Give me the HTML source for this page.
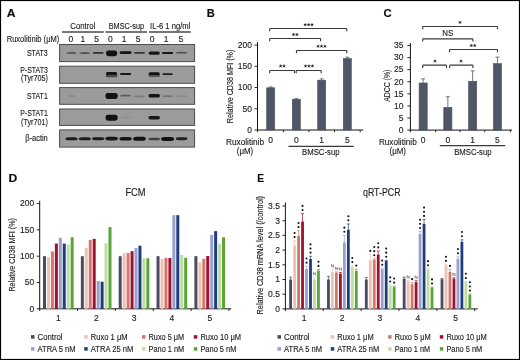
<!DOCTYPE html>
<html><head><meta charset="utf-8"><style>
html,body{margin:0;padding:0;background:#fff;}
body{width:520px;height:360px;overflow:hidden;}
svg{display:block;font-family:"Liberation Sans", sans-serif;will-change:transform;}
text{stroke:#1e1e1e;stroke-width:0.14px;}
</style></head><body>
<svg width="520" height="360" viewBox="0 0 520 360">
<defs><filter id="blur" x="-20%" y="-20%" width="140%" height="140%" color-interpolation-filters="sRGB"><feGaussianBlur stdDeviation="0.6"/></filter></defs>
<rect x="0" y="0" width="520" height="360" fill="#fff"/>
<text x="6.70" y="16.60" font-size="11.2" text-anchor="start" font-weight="bold" fill="#0a0a0a"  textLength="8.80" lengthAdjust="spacingAndGlyphs">A</text>
<text x="206.70" y="16.60" font-size="11.2" text-anchor="start" font-weight="bold" fill="#0a0a0a"  textLength="8.00" lengthAdjust="spacingAndGlyphs">B</text>
<text x="383.50" y="16.60" font-size="11.2" text-anchor="start" font-weight="bold" fill="#0a0a0a"  textLength="8.20" lengthAdjust="spacingAndGlyphs">C</text>
<text x="8.40" y="181.80" font-size="11.2" text-anchor="start" font-weight="bold" fill="#0a0a0a"  textLength="8.80" lengthAdjust="spacingAndGlyphs">D</text>
<text x="257.20" y="181.80" font-size="11.2" text-anchor="start" font-weight="bold" fill="#0a0a0a"  textLength="6.80" lengthAdjust="spacingAndGlyphs">E</text>
<text x="70.30" y="29.00" font-size="8.5" text-anchor="start" font-weight="normal" fill="#1e1e1e"  textLength="25.10" lengthAdjust="spacingAndGlyphs">Control</text>
<text x="108.70" y="29.00" font-size="8.5" text-anchor="start" font-weight="normal" fill="#1e1e1e"  textLength="35.40" lengthAdjust="spacingAndGlyphs">BMSC-sup</text>
<text x="150.10" y="29.00" font-size="8.5" text-anchor="start" font-weight="normal" fill="#1e1e1e"  textLength="40.20" lengthAdjust="spacingAndGlyphs">IL-6 1 ng/ml</text>
<line x1="62.00" y1="32.00" x2="103.80" y2="32.00" stroke="#4a4a4a" stroke-width="1.3"/>
<line x1="105.50" y1="32.00" x2="147.00" y2="32.00" stroke="#4a4a4a" stroke-width="1.3"/>
<line x1="149.00" y1="32.00" x2="190.80" y2="32.00" stroke="#4a4a4a" stroke-width="1.3"/>
<text x="6.70" y="41.70" font-size="8.5" text-anchor="start" font-weight="normal" fill="#1e1e1e"  textLength="52.60" lengthAdjust="spacingAndGlyphs">Ruxolitinib (&#956;M)</text>
<text x="70.90" y="41.70" font-size="8.5" text-anchor="middle" font-weight="normal" fill="#1e1e1e" >0</text>
<text x="82.80" y="41.70" font-size="8.5" text-anchor="middle" font-weight="normal" fill="#1e1e1e" >1</text>
<text x="96.50" y="41.70" font-size="8.5" text-anchor="middle" font-weight="normal" fill="#1e1e1e" >5</text>
<text x="110.40" y="41.70" font-size="8.5" text-anchor="middle" font-weight="normal" fill="#1e1e1e" >0</text>
<text x="124.20" y="41.70" font-size="8.5" text-anchor="middle" font-weight="normal" fill="#1e1e1e" >1</text>
<text x="138.20" y="41.70" font-size="8.5" text-anchor="middle" font-weight="normal" fill="#1e1e1e" >5</text>
<text x="152.20" y="41.70" font-size="8.5" text-anchor="middle" font-weight="normal" fill="#1e1e1e" >0</text>
<text x="166.20" y="41.70" font-size="8.5" text-anchor="middle" font-weight="normal" fill="#1e1e1e" >1</text>
<text x="180.80" y="41.70" font-size="8.5" text-anchor="middle" font-weight="normal" fill="#1e1e1e" >5</text>
<text x="26.90" y="55.80" font-size="8.5" text-anchor="start" font-weight="normal" fill="#1e1e1e"  textLength="20.90" lengthAdjust="spacingAndGlyphs">STAT3</text>
<text x="20.20" y="72.60" font-size="8.5" text-anchor="start" font-weight="normal" fill="#1e1e1e"  textLength="27.60" lengthAdjust="spacingAndGlyphs">P-STAT3</text>
<text x="21.00" y="81.00" font-size="8.5" text-anchor="start" font-weight="normal" fill="#1e1e1e"  textLength="26.80" lengthAdjust="spacingAndGlyphs">(Tyr705)</text>
<text x="27.00" y="98.60" font-size="8.5" text-anchor="start" font-weight="normal" fill="#1e1e1e"  textLength="20.80" lengthAdjust="spacingAndGlyphs">STAT1</text>
<text x="20.20" y="116.10" font-size="8.5" text-anchor="start" font-weight="normal" fill="#1e1e1e"  textLength="27.60" lengthAdjust="spacingAndGlyphs">P-STAT1</text>
<text x="21.00" y="125.10" font-size="8.5" text-anchor="start" font-weight="normal" fill="#1e1e1e"  textLength="26.80" lengthAdjust="spacingAndGlyphs">(Tyr701)</text>
<text x="25.20" y="141.40" font-size="8.5" text-anchor="start" font-weight="normal" fill="#1e1e1e"  textLength="22.60" lengthAdjust="spacingAndGlyphs">&#946;-actin</text>
<rect x="59.60" y="44.50" width="135.00" height="17.10" fill="#9b9b9b" stroke="#4d4d4d" stroke-width="1.0"/>
<rect x="59.60" y="66.20" width="135.00" height="17.10" fill="#9b9b9b" stroke="#4d4d4d" stroke-width="1.0"/>
<rect x="59.60" y="87.60" width="135.00" height="16.70" fill="#9b9b9b" stroke="#4d4d4d" stroke-width="1.0"/>
<rect x="59.60" y="109.00" width="135.00" height="16.40" fill="#9b9b9b" stroke="#4d4d4d" stroke-width="1.0"/>
<rect x="59.60" y="129.90" width="135.00" height="17.20" fill="#9b9b9b" stroke="#4d4d4d" stroke-width="1.0"/>
<g filter="url(#blur)">
<ellipse cx="71.50" cy="52.90" rx="4.85" ry="0.85" fill="#4e4e4e"/>
<ellipse cx="84.80" cy="53.10" rx="5.35" ry="0.90" fill="#464646"/>
<rect x="92.90" y="52.00" width="10.60" height="1.80" rx="0.90" fill="#323232"/>
<rect x="106.00" y="50.40" width="11.20" height="5.80" rx="2.40" fill="#121212"/>
<rect x="119.70" y="51.30" width="11.80" height="2.60" rx="1.30" fill="#161616"/>
<rect x="134.10" y="51.95" width="10.80" height="1.70" rx="0.85" fill="#343434"/>
<rect x="148.60" y="51.40" width="11.20" height="3.40" rx="1.70" fill="#161616"/>
<rect x="162.00" y="51.90" width="11.20" height="2.20" rx="1.10" fill="#181818"/>
<ellipse cx="181.60" cy="52.70" rx="5.60" ry="0.90" fill="#4f4f4f"/>
<rect x="105.95" y="72.10" width="11.30" height="3.40" rx="1.70" fill="#121212"/>
<rect x="105.80" y="74.80" width="11.60" height="2.40" rx="1.20" fill="#484848"/>
<rect x="120.00" y="72.90" width="11.20" height="2.20" rx="1.10" fill="#161616"/>
<rect x="148.60" y="72.30" width="11.20" height="3.20" rx="1.60" fill="#121212"/>
<rect x="148.60" y="74.90" width="11.20" height="2.00" rx="1.00" fill="#565656"/>
<rect x="162.40" y="73.20" width="10.40" height="1.80" rx="0.90" fill="#1f1f1f"/>
<ellipse cx="71.50" cy="96.20" rx="4.10" ry="0.85" fill="#8a8a8a"/>
<rect x="105.50" y="92.90" width="12.20" height="6.20" rx="2.40" fill="#121212"/>
<rect x="120.40" y="94.80" width="10.40" height="1.80" rx="0.90" fill="#5d5d5d"/>
<rect x="134.30" y="95.50" width="10.40" height="1.80" rx="0.90" fill="#7c7c7c"/>
<rect x="148.40" y="93.90" width="11.60" height="3.60" rx="1.80" fill="#161616"/>
<ellipse cx="167.60" cy="96.10" rx="5.50" ry="0.95" fill="#717171"/>
<ellipse cx="181.60" cy="96.10" rx="5.35" ry="0.90" fill="#858585"/>
<rect x="105.60" y="114.70" width="12.00" height="6.00" rx="2.40" fill="#121212"/>
<ellipse cx="125.60" cy="117.60" rx="5.10" ry="0.85" fill="#8d8d8d"/>
<rect x="148.50" y="116.00" width="11.40" height="3.60" rx="1.80" fill="#161616"/>
<rect x="65.50" y="137.25" width="12.00" height="3.10" rx="3.2" ry="1.55" fill="#1b1b1b"/>
<rect x="78.80" y="137.25" width="12.00" height="3.10" rx="3.2" ry="1.55" fill="#1b1b1b"/>
<rect x="92.20" y="137.35" width="12.00" height="2.90" rx="3.2" ry="1.45" fill="#1b1b1b"/>
<rect x="105.30" y="136.75" width="12.60" height="3.70" rx="3.2" ry="1.85" fill="#161616"/>
<rect x="119.40" y="136.95" width="12.40" height="3.50" rx="3.2" ry="1.75" fill="#161616"/>
<rect x="133.20" y="136.75" width="12.60" height="4.10" rx="3.2" ry="2.05" fill="#121212"/>
<rect x="148.40" y="137.75" width="11.60" height="2.50" rx="3.2" ry="1.25" fill="#414141"/>
<rect x="161.10" y="137.05" width="13.00" height="3.90" rx="3.2" ry="1.95" fill="#121212"/>
<rect x="175.80" y="137.35" width="11.60" height="2.90" rx="3.2" ry="1.45" fill="#1f1f1f"/>
</g>
<line x1="257.50" y1="42.20" x2="257.50" y2="130.45" stroke="#151515" stroke-width="1.0"/>
<line x1="257.00" y1="130.00" x2="363.20" y2="130.00" stroke="#151515" stroke-width="1.0"/>
<line x1="254.50" y1="130.00" x2="257.50" y2="130.00" stroke="#151515" stroke-width="0.9"/>
<text x="252.00" y="132.80" font-size="8.5" text-anchor="end" font-weight="normal" fill="#1e1e1e" >0</text>
<line x1="254.50" y1="108.78" x2="257.50" y2="108.78" stroke="#151515" stroke-width="0.9"/>
<text x="252.00" y="111.58" font-size="8.5" text-anchor="end" font-weight="normal" fill="#1e1e1e" >50</text>
<line x1="254.50" y1="87.55" x2="257.50" y2="87.55" stroke="#151515" stroke-width="0.9"/>
<text x="252.00" y="90.35" font-size="8.5" text-anchor="end" font-weight="normal" fill="#1e1e1e" >100</text>
<line x1="254.50" y1="66.33" x2="257.50" y2="66.33" stroke="#151515" stroke-width="0.9"/>
<text x="252.00" y="69.12" font-size="8.5" text-anchor="end" font-weight="normal" fill="#1e1e1e" >150</text>
<line x1="254.50" y1="45.10" x2="257.50" y2="45.10" stroke="#151515" stroke-width="0.9"/>
<text x="252.00" y="47.90" font-size="8.5" text-anchor="end" font-weight="normal" fill="#1e1e1e" >200</text>
<line x1="257.50" y1="130.00" x2="257.50" y2="132.20" stroke="#151515" stroke-width="0.9"/>
<line x1="283.40" y1="130.00" x2="283.40" y2="132.20" stroke="#151515" stroke-width="0.9"/>
<line x1="309.00" y1="130.00" x2="309.00" y2="132.20" stroke="#151515" stroke-width="0.9"/>
<line x1="334.50" y1="130.00" x2="334.50" y2="132.20" stroke="#151515" stroke-width="0.9"/>
<line x1="360.20" y1="130.00" x2="360.20" y2="132.20" stroke="#151515" stroke-width="0.9"/>
<rect x="266.70" y="87.85" width="8.00" height="42.15" fill="#4f5668" stroke="#454b5c" stroke-width="0.6"/>
<line x1="270.70" y1="86.91" x2="270.70" y2="88.05" stroke="#4f5668" stroke-width="0.8"/>
<line x1="268.70" y1="86.91" x2="272.70" y2="86.91" stroke="#4f5668" stroke-width="0.8"/>
<rect x="292.30" y="99.31" width="8.00" height="30.69" fill="#4f5668" stroke="#454b5c" stroke-width="0.6"/>
<line x1="296.30" y1="98.37" x2="296.30" y2="99.51" stroke="#4f5668" stroke-width="0.8"/>
<line x1="294.30" y1="98.37" x2="298.30" y2="98.37" stroke="#4f5668" stroke-width="0.8"/>
<rect x="317.70" y="80.21" width="8.00" height="49.79" fill="#4f5668" stroke="#454b5c" stroke-width="0.6"/>
<line x1="321.70" y1="78.85" x2="321.70" y2="80.41" stroke="#4f5668" stroke-width="0.8"/>
<line x1="319.70" y1="78.85" x2="323.70" y2="78.85" stroke="#4f5668" stroke-width="0.8"/>
<rect x="343.30" y="58.56" width="8.00" height="71.44" fill="#4f5668" stroke="#454b5c" stroke-width="0.6"/>
<line x1="347.30" y1="57.20" x2="347.30" y2="58.76" stroke="#4f5668" stroke-width="0.8"/>
<line x1="345.30" y1="57.20" x2="349.30" y2="57.20" stroke="#4f5668" stroke-width="0.8"/>
<path d="M269.70,31.30 V29.10 Q269.70,28.50 270.30,28.50 H346.20 Q346.80,28.50 346.80,29.10 V31.30" fill="none" stroke="#3a3a3a" stroke-width="1.15"/>
<path d="M305.20,24.80L305.20,23.60M305.20,24.80L306.34,24.43M305.20,24.80L305.91,25.77M305.20,24.80L304.49,25.77M305.20,24.80L304.06,24.43" stroke="#1a1a1a" stroke-width="0.75" stroke-linecap="round" fill="none"/>
<path d="M308.60,24.80L308.60,23.60M308.60,24.80L309.74,24.43M308.60,24.80L309.31,25.77M308.60,24.80L307.89,25.77M308.60,24.80L307.46,24.43" stroke="#1a1a1a" stroke-width="0.75" stroke-linecap="round" fill="none"/>
<path d="M312.00,24.80L312.00,23.60M312.00,24.80L313.14,24.43M312.00,24.80L312.71,25.77M312.00,24.80L311.29,25.77M312.00,24.80L310.86,24.43" stroke="#1a1a1a" stroke-width="0.75" stroke-linecap="round" fill="none"/>
<path d="M269.70,41.30 V39.10 Q269.70,38.50 270.30,38.50 H320.00 Q320.60,38.50 320.60,39.10 V41.30" fill="none" stroke="#3a3a3a" stroke-width="1.15"/>
<path d="M293.50,34.60L293.50,33.40M293.50,34.60L294.64,34.23M293.50,34.60L294.21,35.57M293.50,34.60L292.79,35.57M293.50,34.60L292.36,34.23" stroke="#1a1a1a" stroke-width="0.75" stroke-linecap="round" fill="none"/>
<path d="M296.90,34.60L296.90,33.40M296.90,34.60L298.04,34.23M296.90,34.60L297.61,35.57M296.90,34.60L296.19,35.57M296.90,34.60L295.76,34.23" stroke="#1a1a1a" stroke-width="0.75" stroke-linecap="round" fill="none"/>
<path d="M296.50,53.30 V51.10 Q296.50,50.50 297.10,50.50 H346.20 Q346.80,50.50 346.80,51.10 V53.30" fill="none" stroke="#3a3a3a" stroke-width="1.15"/>
<path d="M318.10,46.30L318.10,45.10M318.10,46.30L319.24,45.93M318.10,46.30L318.81,47.27M318.10,46.30L317.39,47.27M318.10,46.30L316.96,45.93" stroke="#1a1a1a" stroke-width="0.75" stroke-linecap="round" fill="none"/>
<path d="M321.50,46.30L321.50,45.10M321.50,46.30L322.64,45.93M321.50,46.30L322.21,47.27M321.50,46.30L320.79,47.27M321.50,46.30L320.36,45.93" stroke="#1a1a1a" stroke-width="0.75" stroke-linecap="round" fill="none"/>
<path d="M324.90,46.30L324.90,45.10M324.90,46.30L326.04,45.93M324.90,46.30L325.61,47.27M324.90,46.30L324.19,47.27M324.90,46.30L323.76,45.93" stroke="#1a1a1a" stroke-width="0.75" stroke-linecap="round" fill="none"/>
<path d="M269.70,73.30 V71.10 Q269.70,70.50 270.30,70.50 H293.90 Q294.50,70.50 294.50,71.10 V73.30" fill="none" stroke="#3a3a3a" stroke-width="1.15"/>
<path d="M280.60,66.10L280.60,64.90M280.60,66.10L281.74,65.73M280.60,66.10L281.31,67.07M280.60,66.10L279.89,67.07M280.60,66.10L279.46,65.73" stroke="#1a1a1a" stroke-width="0.75" stroke-linecap="round" fill="none"/>
<path d="M284.00,66.10L284.00,64.90M284.00,66.10L285.14,65.73M284.00,66.10L284.71,67.07M284.00,66.10L283.29,67.07M284.00,66.10L282.86,65.73" stroke="#1a1a1a" stroke-width="0.75" stroke-linecap="round" fill="none"/>
<path d="M296.20,73.30 V71.10 Q296.20,70.50 296.80,70.50 H320.60 Q321.20,70.50 321.20,71.10 V73.30" fill="none" stroke="#3a3a3a" stroke-width="1.15"/>
<path d="M305.60,66.10L305.60,64.90M305.60,66.10L306.74,65.73M305.60,66.10L306.31,67.07M305.60,66.10L304.89,67.07M305.60,66.10L304.46,65.73" stroke="#1a1a1a" stroke-width="0.75" stroke-linecap="round" fill="none"/>
<path d="M309.00,66.10L309.00,64.90M309.00,66.10L310.14,65.73M309.00,66.10L309.71,67.07M309.00,66.10L308.29,67.07M309.00,66.10L307.86,65.73" stroke="#1a1a1a" stroke-width="0.75" stroke-linecap="round" fill="none"/>
<path d="M312.40,66.10L312.40,64.90M312.40,66.10L313.54,65.73M312.40,66.10L313.11,67.07M312.40,66.10L311.69,67.07M312.40,66.10L311.26,65.73" stroke="#1a1a1a" stroke-width="0.75" stroke-linecap="round" fill="none"/>
<text x="270.70" y="142.50" font-size="8.5" text-anchor="middle" font-weight="normal" fill="#1e1e1e" >0</text>
<text x="296.30" y="142.50" font-size="8.5" text-anchor="middle" font-weight="normal" fill="#1e1e1e" >0</text>
<text x="321.70" y="142.50" font-size="8.5" text-anchor="middle" font-weight="normal" fill="#1e1e1e" >1</text>
<text x="347.30" y="142.50" font-size="8.5" text-anchor="middle" font-weight="normal" fill="#1e1e1e" >5</text>
<text x="226.00" y="145.30" font-size="8.5" text-anchor="start" font-weight="normal" fill="#1e1e1e"  textLength="38.00" lengthAdjust="spacingAndGlyphs">Ruxolitinib</text>
<text x="236.80" y="154.00" font-size="8.5" text-anchor="start" font-weight="normal" fill="#1e1e1e"  textLength="16.40" lengthAdjust="spacingAndGlyphs">(&#956;M)</text>
<line x1="288.50" y1="146.40" x2="353.70" y2="146.40" stroke="#3a3a3a" stroke-width="1.1"/>
<text x="302.10" y="154.70" font-size="8.5" text-anchor="start" font-weight="normal" fill="#1e1e1e"  textLength="37.40" lengthAdjust="spacingAndGlyphs">BMSC-sup</text>
<text x="-36.75" y="0.00" font-size="9" text-anchor="start" font-weight="normal" fill="#1e1e1e" transform="translate(232.8,86.4) rotate(-90)" textLength="73.50" lengthAdjust="spacingAndGlyphs">Relative CD38 MFI (%)</text>
<line x1="410.40" y1="43.10" x2="410.40" y2="130.55" stroke="#151515" stroke-width="1.0"/>
<line x1="409.90" y1="130.10" x2="512.00" y2="130.10" stroke="#151515" stroke-width="1.0"/>
<line x1="407.40" y1="130.10" x2="410.40" y2="130.10" stroke="#151515" stroke-width="0.9"/>
<text x="403.50" y="132.90" font-size="8.5" text-anchor="end" font-weight="normal" fill="#1e1e1e" >0</text>
<line x1="407.40" y1="118.01" x2="410.40" y2="118.01" stroke="#151515" stroke-width="0.9"/>
<text x="403.50" y="120.81" font-size="8.5" text-anchor="end" font-weight="normal" fill="#1e1e1e" >5</text>
<line x1="407.40" y1="105.93" x2="410.40" y2="105.93" stroke="#151515" stroke-width="0.9"/>
<text x="403.50" y="108.73" font-size="8.5" text-anchor="end" font-weight="normal" fill="#1e1e1e" >10</text>
<line x1="407.40" y1="93.84" x2="410.40" y2="93.84" stroke="#151515" stroke-width="0.9"/>
<text x="403.50" y="96.64" font-size="8.5" text-anchor="end" font-weight="normal" fill="#1e1e1e" >15</text>
<line x1="407.40" y1="81.76" x2="410.40" y2="81.76" stroke="#151515" stroke-width="0.9"/>
<text x="403.50" y="84.56" font-size="8.5" text-anchor="end" font-weight="normal" fill="#1e1e1e" >20</text>
<line x1="407.40" y1="69.67" x2="410.40" y2="69.67" stroke="#151515" stroke-width="0.9"/>
<text x="403.50" y="72.47" font-size="8.5" text-anchor="end" font-weight="normal" fill="#1e1e1e" >25</text>
<line x1="407.40" y1="57.59" x2="410.40" y2="57.59" stroke="#151515" stroke-width="0.9"/>
<text x="403.50" y="60.39" font-size="8.5" text-anchor="end" font-weight="normal" fill="#1e1e1e" >30</text>
<line x1="407.40" y1="45.50" x2="410.40" y2="45.50" stroke="#151515" stroke-width="0.9"/>
<text x="403.50" y="48.30" font-size="8.5" text-anchor="end" font-weight="normal" fill="#1e1e1e" >35</text>
<line x1="410.40" y1="130.10" x2="410.40" y2="132.30" stroke="#151515" stroke-width="0.9"/>
<line x1="435.60" y1="130.10" x2="435.60" y2="132.30" stroke="#151515" stroke-width="0.9"/>
<line x1="460.00" y1="130.10" x2="460.00" y2="132.30" stroke="#151515" stroke-width="0.9"/>
<line x1="484.80" y1="130.10" x2="484.80" y2="132.30" stroke="#151515" stroke-width="0.9"/>
<line x1="510.40" y1="130.10" x2="510.40" y2="132.30" stroke="#151515" stroke-width="0.9"/>
<rect x="419.10" y="83.02" width="8.10" height="47.08" fill="#4f5668" stroke="#454b5c" stroke-width="0.6"/>
<line x1="423.15" y1="78.86" x2="423.15" y2="83.22" stroke="#4f5668" stroke-width="0.8"/>
<line x1="421.15" y1="78.86" x2="425.15" y2="78.86" stroke="#4f5668" stroke-width="0.8"/>
<rect x="443.80" y="107.44" width="8.10" height="22.66" fill="#4f5668" stroke="#454b5c" stroke-width="0.6"/>
<line x1="447.85" y1="96.74" x2="447.85" y2="107.64" stroke="#4f5668" stroke-width="0.8"/>
<line x1="445.85" y1="96.74" x2="449.85" y2="96.74" stroke="#4f5668" stroke-width="0.8"/>
<rect x="468.60" y="81.33" width="8.10" height="48.77" fill="#4f5668" stroke="#454b5c" stroke-width="0.6"/>
<line x1="472.65" y1="70.88" x2="472.65" y2="81.53" stroke="#4f5668" stroke-width="0.8"/>
<line x1="470.65" y1="70.88" x2="474.65" y2="70.88" stroke="#4f5668" stroke-width="0.8"/>
<rect x="493.40" y="63.69" width="8.10" height="66.41" fill="#4f5668" stroke="#454b5c" stroke-width="0.6"/>
<line x1="497.45" y1="57.10" x2="497.45" y2="63.89" stroke="#4f5668" stroke-width="0.8"/>
<line x1="495.45" y1="57.10" x2="499.45" y2="57.10" stroke="#4f5668" stroke-width="0.8"/>
<path d="M422.70,29.30 V27.10 Q422.70,26.50 423.30,26.50 H496.90 Q497.50,26.50 497.50,27.10 V29.30" fill="none" stroke="#3a3a3a" stroke-width="1.15"/>
<path d="M460.00,22.40L460.00,21.20M460.00,22.40L461.14,22.03M460.00,22.40L460.71,23.37M460.00,22.40L459.29,23.37M460.00,22.40L458.86,22.03" stroke="#1a1a1a" stroke-width="0.75" stroke-linecap="round" fill="none"/>
<path d="M422.70,41.60 V39.40 Q422.70,38.80 423.30,38.80 H472.30 Q472.90,38.80 472.90,39.40 V41.60" fill="none" stroke="#3a3a3a" stroke-width="1.15"/>
<text x="442.30" y="36.40" font-size="8.6" text-anchor="start" font-weight="normal" fill="#1e1e1e"  textLength="11.00" lengthAdjust="spacingAndGlyphs">NS</text>
<path d="M449.60,52.30 V50.10 Q449.60,49.50 450.20,49.50 H496.90 Q497.50,49.50 497.50,50.10 V52.30" fill="none" stroke="#3a3a3a" stroke-width="1.15"/>
<path d="M471.30,45.60L471.30,44.40M471.30,45.60L472.44,45.23M471.30,45.60L472.01,46.57M471.30,45.60L470.59,46.57M471.30,45.60L470.16,45.23" stroke="#1a1a1a" stroke-width="0.75" stroke-linecap="round" fill="none"/>
<path d="M474.70,45.60L474.70,44.40M474.70,45.60L475.84,45.23M474.70,45.60L475.41,46.57M474.70,45.60L473.99,46.57M474.70,45.60L473.56,45.23" stroke="#1a1a1a" stroke-width="0.75" stroke-linecap="round" fill="none"/>
<path d="M422.70,67.90 V65.70 Q422.70,65.10 423.30,65.10 H445.90 Q446.50,65.10 446.50,65.70 V67.90" fill="none" stroke="#3a3a3a" stroke-width="1.15"/>
<path d="M435.00,61.20L435.00,60.00M435.00,61.20L436.14,60.83M435.00,61.20L435.71,62.17M435.00,61.20L434.29,62.17M435.00,61.20L433.86,60.83" stroke="#1a1a1a" stroke-width="0.75" stroke-linecap="round" fill="none"/>
<path d="M449.70,67.90 V65.70 Q449.70,65.10 450.30,65.10 H472.30 Q472.90,65.10 472.90,65.70 V67.90" fill="none" stroke="#3a3a3a" stroke-width="1.15"/>
<path d="M461.00,61.20L461.00,60.00M461.00,61.20L462.14,60.83M461.00,61.20L461.71,62.17M461.00,61.20L460.29,62.17M461.00,61.20L459.86,60.83" stroke="#1a1a1a" stroke-width="0.75" stroke-linecap="round" fill="none"/>
<text x="423.15" y="142.60" font-size="8.5" text-anchor="middle" font-weight="normal" fill="#1e1e1e" >0</text>
<text x="447.85" y="142.60" font-size="8.5" text-anchor="middle" font-weight="normal" fill="#1e1e1e" >0</text>
<text x="472.65" y="142.60" font-size="8.5" text-anchor="middle" font-weight="normal" fill="#1e1e1e" >1</text>
<text x="497.45" y="142.60" font-size="8.5" text-anchor="middle" font-weight="normal" fill="#1e1e1e" >5</text>
<text x="378.90" y="145.30" font-size="8.5" text-anchor="start" font-weight="normal" fill="#1e1e1e"  textLength="37.80" lengthAdjust="spacingAndGlyphs">Ruxolitinib</text>
<text x="389.60" y="154.00" font-size="8.5" text-anchor="start" font-weight="normal" fill="#1e1e1e"  textLength="16.40" lengthAdjust="spacingAndGlyphs">(&#956;M)</text>
<line x1="439.80" y1="145.60" x2="505.20" y2="145.60" stroke="#3a3a3a" stroke-width="1.1"/>
<text x="454.20" y="154.80" font-size="8.5" text-anchor="start" font-weight="normal" fill="#1e1e1e"  textLength="37.40" lengthAdjust="spacingAndGlyphs">BMSC-sup</text>
<text x="-16.00" y="0.00" font-size="9" text-anchor="start" font-weight="normal" fill="#1e1e1e" transform="translate(390.3,85.7) rotate(-90)" textLength="32.00" lengthAdjust="spacingAndGlyphs">ADCC (%)</text>
<line x1="39.70" y1="200.80" x2="39.70" y2="309.25" stroke="#151515" stroke-width="1.0"/>
<line x1="39.20" y1="308.80" x2="231.20" y2="308.80" stroke="#151515" stroke-width="1.0"/>
<line x1="36.70" y1="308.80" x2="39.70" y2="308.80" stroke="#151515" stroke-width="0.9"/>
<text x="34.20" y="311.60" font-size="8.5" text-anchor="end" font-weight="normal" fill="#1e1e1e" >0</text>
<line x1="36.70" y1="282.50" x2="39.70" y2="282.50" stroke="#151515" stroke-width="0.9"/>
<text x="34.20" y="285.30" font-size="8.5" text-anchor="end" font-weight="normal" fill="#1e1e1e" >50</text>
<line x1="36.70" y1="256.20" x2="39.70" y2="256.20" stroke="#151515" stroke-width="0.9"/>
<text x="34.20" y="259.00" font-size="8.5" text-anchor="end" font-weight="normal" fill="#1e1e1e" >100</text>
<line x1="36.70" y1="229.90" x2="39.70" y2="229.90" stroke="#151515" stroke-width="0.9"/>
<text x="34.20" y="232.70" font-size="8.5" text-anchor="end" font-weight="normal" fill="#1e1e1e" >150</text>
<line x1="36.70" y1="203.60" x2="39.70" y2="203.60" stroke="#151515" stroke-width="0.9"/>
<text x="34.20" y="206.40" font-size="8.5" text-anchor="end" font-weight="normal" fill="#1e1e1e" >200</text>
<line x1="39.70" y1="308.80" x2="39.70" y2="311.00" stroke="#151515" stroke-width="0.9"/>
<line x1="77.55" y1="308.80" x2="77.55" y2="311.00" stroke="#151515" stroke-width="0.9"/>
<line x1="115.40" y1="308.80" x2="115.40" y2="311.00" stroke="#151515" stroke-width="0.9"/>
<line x1="153.25" y1="308.80" x2="153.25" y2="311.00" stroke="#151515" stroke-width="0.9"/>
<line x1="191.10" y1="308.80" x2="191.10" y2="311.00" stroke="#151515" stroke-width="0.9"/>
<line x1="228.95" y1="308.80" x2="228.95" y2="311.00" stroke="#151515" stroke-width="0.9"/>
<rect x="43.00" y="256.20" width="3.00" height="52.60" fill="#464d62" />
<rect x="46.95" y="257.25" width="3.00" height="51.55" fill="#efc1b3" />
<rect x="50.90" y="251.47" width="3.00" height="57.33" fill="#cd7a6d" />
<rect x="54.85" y="243.58" width="3.00" height="65.22" fill="#a2102f" />
<rect x="58.80" y="237.79" width="3.00" height="71.01" fill="#98a0cb" />
<rect x="62.75" y="243.58" width="3.00" height="65.22" fill="#1f3d7e" />
<rect x="66.70" y="244.63" width="3.00" height="64.17" fill="#c1dca3" />
<rect x="70.65" y="237.26" width="3.00" height="71.54" fill="#5aa53a" />
<rect x="80.85" y="256.20" width="3.00" height="52.60" fill="#464d62" />
<rect x="84.80" y="247.78" width="3.00" height="61.02" fill="#efc1b3" />
<rect x="88.75" y="239.89" width="3.00" height="68.91" fill="#cd7a6d" />
<rect x="92.70" y="238.84" width="3.00" height="69.96" fill="#a2102f" />
<rect x="96.65" y="280.92" width="3.00" height="27.88" fill="#98a0cb" />
<rect x="100.60" y="281.71" width="3.00" height="27.09" fill="#1f3d7e" />
<rect x="104.55" y="243.31" width="3.00" height="65.49" fill="#c1dca3" />
<rect x="108.50" y="227.01" width="3.00" height="81.79" fill="#5aa53a" />
<rect x="118.70" y="256.20" width="3.00" height="52.60" fill="#464d62" />
<rect x="122.65" y="253.31" width="3.00" height="55.49" fill="#efc1b3" />
<rect x="126.60" y="253.04" width="3.00" height="55.76" fill="#cd7a6d" />
<rect x="130.55" y="251.20" width="3.00" height="57.60" fill="#a2102f" />
<rect x="134.50" y="248.05" width="3.00" height="60.75" fill="#98a0cb" />
<rect x="138.45" y="245.68" width="3.00" height="63.12" fill="#1f3d7e" />
<rect x="142.40" y="258.30" width="3.00" height="50.50" fill="#c1dca3" />
<rect x="146.35" y="258.30" width="3.00" height="50.50" fill="#5aa53a" />
<rect x="156.55" y="256.20" width="3.00" height="52.60" fill="#464d62" />
<rect x="160.50" y="259.09" width="3.00" height="49.71" fill="#efc1b3" />
<rect x="164.45" y="257.78" width="3.00" height="51.02" fill="#cd7a6d" />
<rect x="168.40" y="258.04" width="3.00" height="50.76" fill="#a2102f" />
<rect x="172.35" y="215.17" width="3.00" height="93.63" fill="#98a0cb" />
<rect x="176.30" y="215.17" width="3.00" height="93.63" fill="#1f3d7e" />
<rect x="180.25" y="254.89" width="3.00" height="53.91" fill="#c1dca3" />
<rect x="184.20" y="257.78" width="3.00" height="51.02" fill="#5aa53a" />
<rect x="194.40" y="256.20" width="3.00" height="52.60" fill="#464d62" />
<rect x="198.35" y="262.25" width="3.00" height="46.55" fill="#efc1b3" />
<rect x="202.30" y="258.83" width="3.00" height="49.97" fill="#cd7a6d" />
<rect x="206.25" y="255.99" width="3.00" height="52.81" fill="#a2102f" />
<rect x="210.20" y="234.90" width="3.00" height="73.90" fill="#98a0cb" />
<rect x="214.15" y="231.11" width="3.00" height="77.69" fill="#1f3d7e" />
<rect x="218.10" y="243.79" width="3.00" height="65.01" fill="#c1dca3" />
<rect x="222.05" y="237.26" width="3.00" height="71.54" fill="#5aa53a" />
<text x="58.40" y="321.40" font-size="8.5" text-anchor="middle" font-weight="normal" fill="#1e1e1e" >1</text>
<text x="96.25" y="321.40" font-size="8.5" text-anchor="middle" font-weight="normal" fill="#1e1e1e" >2</text>
<text x="134.10" y="321.40" font-size="8.5" text-anchor="middle" font-weight="normal" fill="#1e1e1e" >3</text>
<text x="171.95" y="321.40" font-size="8.5" text-anchor="middle" font-weight="normal" fill="#1e1e1e" >4</text>
<text x="209.80" y="321.40" font-size="8.5" text-anchor="middle" font-weight="normal" fill="#1e1e1e" >5</text>
<text x="125.40" y="195.50" font-size="10.2" text-anchor="start" font-weight="normal" fill="#1e1e1e"  textLength="20.20" lengthAdjust="spacingAndGlyphs">FCM</text>
<text x="-36.75" y="0.00" font-size="9" text-anchor="start" font-weight="normal" fill="#1e1e1e" transform="translate(15.0,254.8) rotate(-90)" textLength="73.50" lengthAdjust="spacingAndGlyphs">Relative CD38 MFI (%)</text>
<line x1="285.40" y1="202.50" x2="285.40" y2="309.35" stroke="#151515" stroke-width="1.0"/>
<line x1="284.90" y1="308.90" x2="477.80" y2="308.90" stroke="#151515" stroke-width="1.0"/>
<line x1="282.40" y1="308.90" x2="285.40" y2="308.90" stroke="#151515" stroke-width="0.9"/>
<text x="279.90" y="311.70" font-size="8.5" text-anchor="end" font-weight="normal" fill="#1e1e1e" >0</text>
<line x1="282.40" y1="294.20" x2="285.40" y2="294.20" stroke="#151515" stroke-width="0.9"/>
<text x="279.90" y="297.00" font-size="8.5" text-anchor="end" font-weight="normal" fill="#1e1e1e" >0.5</text>
<line x1="282.40" y1="279.50" x2="285.40" y2="279.50" stroke="#151515" stroke-width="0.9"/>
<text x="279.90" y="282.30" font-size="8.5" text-anchor="end" font-weight="normal" fill="#1e1e1e" >1</text>
<line x1="282.40" y1="264.80" x2="285.40" y2="264.80" stroke="#151515" stroke-width="0.9"/>
<text x="279.90" y="267.60" font-size="8.5" text-anchor="end" font-weight="normal" fill="#1e1e1e" >1.5</text>
<line x1="282.40" y1="250.10" x2="285.40" y2="250.10" stroke="#151515" stroke-width="0.9"/>
<text x="279.90" y="252.90" font-size="8.5" text-anchor="end" font-weight="normal" fill="#1e1e1e" >2</text>
<line x1="282.40" y1="235.40" x2="285.40" y2="235.40" stroke="#151515" stroke-width="0.9"/>
<text x="279.90" y="238.20" font-size="8.5" text-anchor="end" font-weight="normal" fill="#1e1e1e" >2.5</text>
<line x1="282.40" y1="220.70" x2="285.40" y2="220.70" stroke="#151515" stroke-width="0.9"/>
<text x="279.90" y="223.50" font-size="8.5" text-anchor="end" font-weight="normal" fill="#1e1e1e" >3</text>
<line x1="282.40" y1="206.00" x2="285.40" y2="206.00" stroke="#151515" stroke-width="0.9"/>
<text x="279.90" y="208.80" font-size="8.5" text-anchor="end" font-weight="normal" fill="#1e1e1e" >3.5</text>
<line x1="285.40" y1="308.90" x2="285.40" y2="311.10" stroke="#151515" stroke-width="0.9"/>
<line x1="323.25" y1="308.90" x2="323.25" y2="311.10" stroke="#151515" stroke-width="0.9"/>
<line x1="361.10" y1="308.90" x2="361.10" y2="311.10" stroke="#151515" stroke-width="0.9"/>
<line x1="398.95" y1="308.90" x2="398.95" y2="311.10" stroke="#151515" stroke-width="0.9"/>
<line x1="436.80" y1="308.90" x2="436.80" y2="311.10" stroke="#151515" stroke-width="0.9"/>
<line x1="474.65" y1="308.90" x2="474.65" y2="311.10" stroke="#151515" stroke-width="0.9"/>
<rect x="289.20" y="279.50" width="2.80" height="29.40" fill="#464d62" />
<line x1="290.60" y1="277.15" x2="290.60" y2="279.80" stroke="#464d62" stroke-width="0.7"/>
<line x1="289.10" y1="277.15" x2="292.10" y2="277.15" stroke="#464d62" stroke-width="0.7"/>
<rect x="293.18" y="245.69" width="2.80" height="63.21" fill="#efc1b3" />
<line x1="294.58" y1="240.69" x2="294.58" y2="245.99" stroke="#efc1b3" stroke-width="0.7"/>
<line x1="293.08" y1="240.69" x2="296.08" y2="240.69" stroke="#efc1b3" stroke-width="0.7"/>
<circle cx="294.58" cy="237.09" r="1.05" fill="#111"/>
<circle cx="294.58" cy="232.94" r="1.05" fill="#111"/>
<rect x="297.16" y="235.99" width="2.80" height="72.91" fill="#cd7a6d" />
<line x1="298.56" y1="230.70" x2="298.56" y2="236.29" stroke="#cd7a6d" stroke-width="0.7"/>
<line x1="297.06" y1="230.70" x2="300.06" y2="230.70" stroke="#cd7a6d" stroke-width="0.7"/>
<circle cx="298.56" cy="227.10" r="1.05" fill="#111"/>
<circle cx="298.56" cy="222.95" r="1.05" fill="#111"/>
<rect x="301.14" y="221.58" width="2.80" height="87.32" fill="#a2102f" />
<line x1="302.54" y1="213.64" x2="302.54" y2="221.88" stroke="#a2102f" stroke-width="0.7"/>
<line x1="301.04" y1="213.64" x2="304.04" y2="213.64" stroke="#a2102f" stroke-width="0.7"/>
<circle cx="302.54" cy="210.04" r="1.05" fill="#111"/>
<circle cx="302.54" cy="205.89" r="1.05" fill="#111"/>
<rect x="305.12" y="268.92" width="2.80" height="39.98" fill="#98a0cb" />
<line x1="306.52" y1="266.27" x2="306.52" y2="269.22" stroke="#98a0cb" stroke-width="0.7"/>
<line x1="305.02" y1="266.27" x2="308.02" y2="266.27" stroke="#98a0cb" stroke-width="0.7"/>
<circle cx="306.52" cy="262.67" r="1.05" fill="#111"/>
<circle cx="306.52" cy="258.52" r="1.05" fill="#111"/>
<rect x="309.10" y="258.92" width="2.80" height="49.98" fill="#1f3d7e" />
<line x1="310.50" y1="256.27" x2="310.50" y2="259.22" stroke="#1f3d7e" stroke-width="0.7"/>
<line x1="309.00" y1="256.27" x2="312.00" y2="256.27" stroke="#1f3d7e" stroke-width="0.7"/>
<circle cx="310.50" cy="252.67" r="1.05" fill="#111"/>
<circle cx="310.50" cy="248.52" r="1.05" fill="#111"/>
<circle cx="310.50" cy="244.37" r="1.05" fill="#111"/>
<rect x="313.08" y="279.50" width="2.80" height="29.40" fill="#c1dca3" />
<line x1="314.48" y1="277.15" x2="314.48" y2="279.80" stroke="#c1dca3" stroke-width="0.7"/>
<line x1="312.98" y1="277.15" x2="315.98" y2="277.15" stroke="#c1dca3" stroke-width="0.7"/>
<path d="M313.43,275.25V272.25L315.53,275.25V272.25" fill="none" stroke="#333" stroke-width="0.5"/>
<rect x="317.06" y="270.68" width="2.80" height="38.22" fill="#5aa53a" />
<line x1="318.46" y1="269.50" x2="318.46" y2="270.98" stroke="#5aa53a" stroke-width="0.7"/>
<line x1="316.96" y1="269.50" x2="319.96" y2="269.50" stroke="#5aa53a" stroke-width="0.7"/>
<circle cx="318.46" cy="265.90" r="1.05" fill="#111"/>
<circle cx="318.46" cy="261.75" r="1.05" fill="#111"/>
<rect x="327.05" y="279.50" width="2.80" height="29.40" fill="#464d62" />
<line x1="328.45" y1="276.27" x2="328.45" y2="279.80" stroke="#464d62" stroke-width="0.7"/>
<line x1="326.95" y1="276.27" x2="329.95" y2="276.27" stroke="#464d62" stroke-width="0.7"/>
<rect x="331.03" y="272.15" width="2.80" height="36.75" fill="#efc1b3" />
<line x1="332.43" y1="269.21" x2="332.43" y2="272.45" stroke="#efc1b3" stroke-width="0.7"/>
<line x1="330.93" y1="269.21" x2="333.93" y2="269.21" stroke="#efc1b3" stroke-width="0.7"/>
<path d="M331.38,267.31V264.31L333.48,267.31V264.31" fill="none" stroke="#333" stroke-width="0.5"/>
<rect x="335.01" y="272.74" width="2.80" height="36.16" fill="#cd7a6d" />
<line x1="336.41" y1="271.86" x2="336.41" y2="273.04" stroke="#cd7a6d" stroke-width="0.7"/>
<line x1="334.91" y1="271.86" x2="337.91" y2="271.86" stroke="#cd7a6d" stroke-width="0.7"/>
<path d="M335.36,269.96V266.96L337.46,269.96V266.96" fill="none" stroke="#333" stroke-width="0.5"/>
<rect x="338.99" y="273.62" width="2.80" height="35.28" fill="#a2102f" />
<line x1="340.39" y1="272.44" x2="340.39" y2="273.92" stroke="#a2102f" stroke-width="0.7"/>
<line x1="338.89" y1="272.44" x2="341.89" y2="272.44" stroke="#a2102f" stroke-width="0.7"/>
<path d="M339.34,270.54V267.54L341.44,270.54V267.54" fill="none" stroke="#333" stroke-width="0.5"/>
<rect x="342.97" y="242.46" width="2.80" height="66.44" fill="#98a0cb" />
<line x1="344.37" y1="235.40" x2="344.37" y2="242.76" stroke="#98a0cb" stroke-width="0.7"/>
<line x1="342.87" y1="235.40" x2="345.87" y2="235.40" stroke="#98a0cb" stroke-width="0.7"/>
<circle cx="344.37" cy="231.80" r="1.05" fill="#111"/>
<circle cx="344.37" cy="227.65" r="1.05" fill="#111"/>
<rect x="346.95" y="229.81" width="2.80" height="79.09" fill="#1f3d7e" />
<line x1="348.35" y1="223.93" x2="348.35" y2="230.11" stroke="#1f3d7e" stroke-width="0.7"/>
<line x1="346.85" y1="223.93" x2="349.85" y2="223.93" stroke="#1f3d7e" stroke-width="0.7"/>
<circle cx="348.35" cy="220.33" r="1.05" fill="#111"/>
<circle cx="348.35" cy="216.18" r="1.05" fill="#111"/>
<rect x="350.93" y="267.15" width="2.80" height="41.75" fill="#c1dca3" />
<line x1="352.33" y1="265.68" x2="352.33" y2="267.45" stroke="#c1dca3" stroke-width="0.7"/>
<line x1="350.83" y1="265.68" x2="353.83" y2="265.68" stroke="#c1dca3" stroke-width="0.7"/>
<circle cx="352.33" cy="262.08" r="1.05" fill="#111"/>
<circle cx="352.33" cy="257.93" r="1.05" fill="#111"/>
<rect x="354.91" y="270.97" width="2.80" height="37.93" fill="#5aa53a" />
<line x1="356.31" y1="269.21" x2="356.31" y2="271.27" stroke="#5aa53a" stroke-width="0.7"/>
<line x1="354.81" y1="269.21" x2="357.81" y2="269.21" stroke="#5aa53a" stroke-width="0.7"/>
<circle cx="356.31" cy="265.61" r="1.05" fill="#111"/>
<rect x="364.90" y="279.50" width="2.80" height="29.40" fill="#464d62" />
<line x1="366.30" y1="277.44" x2="366.30" y2="279.80" stroke="#464d62" stroke-width="0.7"/>
<line x1="364.80" y1="277.44" x2="367.80" y2="277.44" stroke="#464d62" stroke-width="0.7"/>
<rect x="368.88" y="260.39" width="2.80" height="48.51" fill="#efc1b3" />
<line x1="370.28" y1="254.51" x2="370.28" y2="260.69" stroke="#efc1b3" stroke-width="0.7"/>
<line x1="368.78" y1="254.51" x2="371.78" y2="254.51" stroke="#efc1b3" stroke-width="0.7"/>
<circle cx="370.28" cy="250.91" r="1.05" fill="#111"/>
<rect x="372.86" y="259.80" width="2.80" height="49.10" fill="#cd7a6d" />
<line x1="374.26" y1="258.92" x2="374.26" y2="260.10" stroke="#cd7a6d" stroke-width="0.7"/>
<line x1="372.76" y1="258.92" x2="375.76" y2="258.92" stroke="#cd7a6d" stroke-width="0.7"/>
<circle cx="374.26" cy="255.32" r="1.05" fill="#111"/>
<circle cx="374.26" cy="251.17" r="1.05" fill="#111"/>
<circle cx="374.26" cy="247.02" r="1.05" fill="#111"/>
<rect x="376.84" y="254.51" width="2.80" height="54.39" fill="#a2102f" />
<line x1="378.24" y1="250.98" x2="378.24" y2="254.81" stroke="#a2102f" stroke-width="0.7"/>
<line x1="376.74" y1="250.98" x2="379.74" y2="250.98" stroke="#a2102f" stroke-width="0.7"/>
<circle cx="378.24" cy="247.38" r="1.05" fill="#111"/>
<circle cx="378.24" cy="243.23" r="1.05" fill="#111"/>
<rect x="380.82" y="269.21" width="2.80" height="39.69" fill="#98a0cb" />
<line x1="382.22" y1="268.33" x2="382.22" y2="269.51" stroke="#98a0cb" stroke-width="0.7"/>
<line x1="380.72" y1="268.33" x2="383.72" y2="268.33" stroke="#98a0cb" stroke-width="0.7"/>
<circle cx="382.22" cy="264.73" r="1.05" fill="#111"/>
<circle cx="382.22" cy="260.58" r="1.05" fill="#111"/>
<rect x="384.80" y="260.98" width="2.80" height="47.92" fill="#1f3d7e" />
<line x1="386.20" y1="260.39" x2="386.20" y2="261.28" stroke="#1f3d7e" stroke-width="0.7"/>
<line x1="384.70" y1="260.39" x2="387.70" y2="260.39" stroke="#1f3d7e" stroke-width="0.7"/>
<circle cx="386.20" cy="256.79" r="1.05" fill="#111"/>
<circle cx="386.20" cy="252.64" r="1.05" fill="#111"/>
<circle cx="386.20" cy="248.49" r="1.05" fill="#111"/>
<rect x="388.78" y="285.97" width="2.80" height="22.93" fill="#c1dca3" />
<line x1="390.18" y1="285.09" x2="390.18" y2="286.27" stroke="#c1dca3" stroke-width="0.7"/>
<line x1="388.68" y1="285.09" x2="391.68" y2="285.09" stroke="#c1dca3" stroke-width="0.7"/>
<circle cx="390.18" cy="281.49" r="1.05" fill="#111"/>
<circle cx="390.18" cy="277.34" r="1.05" fill="#111"/>
<rect x="392.76" y="287.14" width="2.80" height="21.76" fill="#5aa53a" />
<line x1="394.16" y1="286.26" x2="394.16" y2="287.44" stroke="#5aa53a" stroke-width="0.7"/>
<line x1="392.66" y1="286.26" x2="395.66" y2="286.26" stroke="#5aa53a" stroke-width="0.7"/>
<circle cx="394.16" cy="282.66" r="1.05" fill="#111"/>
<circle cx="394.16" cy="278.51" r="1.05" fill="#111"/>
<rect x="402.75" y="278.62" width="2.80" height="30.28" fill="#464d62" />
<line x1="404.15" y1="277.15" x2="404.15" y2="278.92" stroke="#464d62" stroke-width="0.7"/>
<line x1="402.65" y1="277.15" x2="405.65" y2="277.15" stroke="#464d62" stroke-width="0.7"/>
<rect x="406.73" y="281.26" width="2.80" height="27.64" fill="#efc1b3" />
<line x1="408.13" y1="280.38" x2="408.13" y2="281.56" stroke="#efc1b3" stroke-width="0.7"/>
<line x1="406.63" y1="280.38" x2="409.63" y2="280.38" stroke="#efc1b3" stroke-width="0.7"/>
<path d="M407.08,278.48V275.48L409.18,278.48V275.48" fill="none" stroke="#333" stroke-width="0.5"/>
<rect x="410.71" y="284.20" width="2.80" height="24.70" fill="#cd7a6d" />
<line x1="412.11" y1="282.73" x2="412.11" y2="284.50" stroke="#cd7a6d" stroke-width="0.7"/>
<line x1="410.61" y1="282.73" x2="413.61" y2="282.73" stroke="#cd7a6d" stroke-width="0.7"/>
<circle cx="412.11" cy="279.13" r="1.05" fill="#111"/>
<rect x="414.69" y="282.15" width="2.80" height="26.75" fill="#a2102f" />
<line x1="416.09" y1="280.68" x2="416.09" y2="282.45" stroke="#a2102f" stroke-width="0.7"/>
<line x1="414.59" y1="280.68" x2="417.59" y2="280.68" stroke="#a2102f" stroke-width="0.7"/>
<path d="M415.04,278.78V275.78L417.14,278.78V275.78" fill="none" stroke="#333" stroke-width="0.5"/>
<rect x="418.67" y="233.93" width="2.80" height="74.97" fill="#98a0cb" />
<line x1="420.07" y1="231.58" x2="420.07" y2="234.23" stroke="#98a0cb" stroke-width="0.7"/>
<line x1="418.57" y1="231.58" x2="421.57" y2="231.58" stroke="#98a0cb" stroke-width="0.7"/>
<circle cx="420.07" cy="227.98" r="1.05" fill="#111"/>
<circle cx="420.07" cy="223.83" r="1.05" fill="#111"/>
<circle cx="420.07" cy="219.68" r="1.05" fill="#111"/>
<rect x="422.65" y="223.93" width="2.80" height="84.97" fill="#1f3d7e" />
<line x1="424.05" y1="219.52" x2="424.05" y2="224.23" stroke="#1f3d7e" stroke-width="0.7"/>
<line x1="422.55" y1="219.52" x2="425.55" y2="219.52" stroke="#1f3d7e" stroke-width="0.7"/>
<circle cx="424.05" cy="215.92" r="1.05" fill="#111"/>
<circle cx="424.05" cy="211.77" r="1.05" fill="#111"/>
<circle cx="424.05" cy="207.62" r="1.05" fill="#111"/>
<rect x="426.63" y="269.50" width="2.80" height="39.40" fill="#c1dca3" />
<line x1="428.03" y1="268.92" x2="428.03" y2="269.80" stroke="#c1dca3" stroke-width="0.7"/>
<line x1="426.53" y1="268.92" x2="429.53" y2="268.92" stroke="#c1dca3" stroke-width="0.7"/>
<circle cx="428.03" cy="265.32" r="1.05" fill="#111"/>
<circle cx="428.03" cy="261.17" r="1.05" fill="#111"/>
<rect x="430.61" y="287.73" width="2.80" height="21.17" fill="#5aa53a" />
<line x1="432.01" y1="287.14" x2="432.01" y2="288.03" stroke="#5aa53a" stroke-width="0.7"/>
<line x1="430.51" y1="287.14" x2="433.51" y2="287.14" stroke="#5aa53a" stroke-width="0.7"/>
<circle cx="432.01" cy="283.54" r="1.05" fill="#111"/>
<circle cx="432.01" cy="279.39" r="1.05" fill="#111"/>
<rect x="440.60" y="279.21" width="2.80" height="29.69" fill="#464d62" />
<line x1="442.00" y1="278.62" x2="442.00" y2="279.51" stroke="#464d62" stroke-width="0.7"/>
<line x1="440.50" y1="278.62" x2="443.50" y2="278.62" stroke="#464d62" stroke-width="0.7"/>
<rect x="444.58" y="265.39" width="2.80" height="43.51" fill="#efc1b3" />
<line x1="445.98" y1="264.51" x2="445.98" y2="265.69" stroke="#efc1b3" stroke-width="0.7"/>
<line x1="444.48" y1="264.51" x2="447.48" y2="264.51" stroke="#efc1b3" stroke-width="0.7"/>
<circle cx="445.98" cy="260.91" r="1.05" fill="#111"/>
<circle cx="445.98" cy="256.76" r="1.05" fill="#111"/>
<rect x="448.56" y="271.86" width="2.80" height="37.04" fill="#cd7a6d" />
<line x1="449.96" y1="269.50" x2="449.96" y2="272.16" stroke="#cd7a6d" stroke-width="0.7"/>
<line x1="448.46" y1="269.50" x2="451.46" y2="269.50" stroke="#cd7a6d" stroke-width="0.7"/>
<circle cx="449.96" cy="265.90" r="1.05" fill="#111"/>
<rect x="452.54" y="278.62" width="2.80" height="30.28" fill="#a2102f" />
<line x1="453.94" y1="277.74" x2="453.94" y2="278.92" stroke="#a2102f" stroke-width="0.7"/>
<line x1="452.44" y1="277.74" x2="455.44" y2="277.74" stroke="#a2102f" stroke-width="0.7"/>
<path d="M452.89,275.84V272.84L454.99,275.84V272.84" fill="none" stroke="#333" stroke-width="0.5"/>
<rect x="456.52" y="258.92" width="2.80" height="49.98" fill="#98a0cb" />
<line x1="457.92" y1="256.86" x2="457.92" y2="259.22" stroke="#98a0cb" stroke-width="0.7"/>
<line x1="456.42" y1="256.86" x2="459.42" y2="256.86" stroke="#98a0cb" stroke-width="0.7"/>
<circle cx="457.92" cy="253.26" r="1.05" fill="#111"/>
<circle cx="457.92" cy="249.11" r="1.05" fill="#111"/>
<rect x="460.50" y="241.87" width="2.80" height="67.03" fill="#1f3d7e" />
<line x1="461.90" y1="239.81" x2="461.90" y2="242.17" stroke="#1f3d7e" stroke-width="0.7"/>
<line x1="460.40" y1="239.81" x2="463.40" y2="239.81" stroke="#1f3d7e" stroke-width="0.7"/>
<circle cx="461.90" cy="236.21" r="1.05" fill="#111"/>
<circle cx="461.90" cy="232.06" r="1.05" fill="#111"/>
<rect x="464.48" y="282.15" width="2.80" height="26.75" fill="#c1dca3" />
<line x1="465.88" y1="281.56" x2="465.88" y2="282.45" stroke="#c1dca3" stroke-width="0.7"/>
<line x1="464.38" y1="281.56" x2="467.38" y2="281.56" stroke="#c1dca3" stroke-width="0.7"/>
<circle cx="465.88" cy="277.96" r="1.05" fill="#111"/>
<circle cx="465.88" cy="273.81" r="1.05" fill="#111"/>
<rect x="468.46" y="294.79" width="2.80" height="14.11" fill="#5aa53a" />
<line x1="469.86" y1="294.20" x2="469.86" y2="295.09" stroke="#5aa53a" stroke-width="0.7"/>
<line x1="468.36" y1="294.20" x2="471.36" y2="294.20" stroke="#5aa53a" stroke-width="0.7"/>
<circle cx="469.86" cy="290.60" r="1.05" fill="#111"/>
<circle cx="469.86" cy="286.45" r="1.05" fill="#111"/>
<circle cx="469.86" cy="282.30" r="1.05" fill="#111"/>
<text x="304.20" y="321.40" font-size="8.5" text-anchor="middle" font-weight="normal" fill="#1e1e1e" >1</text>
<text x="342.05" y="321.40" font-size="8.5" text-anchor="middle" font-weight="normal" fill="#1e1e1e" >2</text>
<text x="379.90" y="321.40" font-size="8.5" text-anchor="middle" font-weight="normal" fill="#1e1e1e" >3</text>
<text x="417.75" y="321.40" font-size="8.5" text-anchor="middle" font-weight="normal" fill="#1e1e1e" >4</text>
<text x="455.60" y="321.40" font-size="8.5" text-anchor="middle" font-weight="normal" fill="#1e1e1e" >5</text>
<text x="363.00" y="195.50" font-size="10.2" text-anchor="start" font-weight="normal" fill="#1e1e1e"  textLength="37.50" lengthAdjust="spacingAndGlyphs">qRT-PCR</text>
<text x="-59.25" y="0.00" font-size="9" text-anchor="start" font-weight="normal" fill="#1e1e1e" transform="translate(263.0,255.2) rotate(-90)" textLength="118.50" lengthAdjust="spacingAndGlyphs">Relative CD38 mRNA level (/control)</text>
<rect x="31.00" y="335.15" width="3.50" height="3.50" fill="#464d62" />
<text x="37.60" y="339.50" font-size="8.5" text-anchor="start" font-weight="normal" fill="#1e1e1e"  textLength="25.00" lengthAdjust="spacingAndGlyphs">Control</text>
<rect x="84.20" y="335.15" width="3.50" height="3.50" fill="#efc1b3" />
<text x="90.80" y="339.50" font-size="8.5" text-anchor="start" font-weight="normal" fill="#1e1e1e"  textLength="36.80" lengthAdjust="spacingAndGlyphs">Ruxo 1 &#956;M</text>
<rect x="142.00" y="335.15" width="3.50" height="3.50" fill="#cd7a6d" />
<text x="148.60" y="339.50" font-size="8.5" text-anchor="start" font-weight="normal" fill="#1e1e1e"  textLength="35.50" lengthAdjust="spacingAndGlyphs">Ruxo 5 &#956;M</text>
<rect x="193.80" y="335.15" width="3.50" height="3.50" fill="#a2102f" />
<text x="200.40" y="339.50" font-size="8.5" text-anchor="start" font-weight="normal" fill="#1e1e1e"  textLength="40.60" lengthAdjust="spacingAndGlyphs">Ruxo 10 &#956;M</text>
<rect x="31.00" y="347.15" width="3.50" height="3.50" fill="#98a0cb" />
<text x="37.60" y="351.50" font-size="8.5" text-anchor="start" font-weight="normal" fill="#1e1e1e"  textLength="38.00" lengthAdjust="spacingAndGlyphs">ATRA 5 nM</text>
<rect x="84.20" y="347.15" width="3.50" height="3.50" fill="#1f3d7e" />
<text x="90.80" y="351.50" font-size="8.5" text-anchor="start" font-weight="normal" fill="#1e1e1e"  textLength="42.60" lengthAdjust="spacingAndGlyphs">ATRA 25 nM</text>
<rect x="142.00" y="347.15" width="3.50" height="3.50" fill="#c1dca3" />
<text x="148.60" y="351.50" font-size="8.5" text-anchor="start" font-weight="normal" fill="#1e1e1e"  textLength="35.50" lengthAdjust="spacingAndGlyphs">Pano 1 nM</text>
<rect x="193.80" y="347.15" width="3.50" height="3.50" fill="#5aa53a" />
<text x="200.40" y="351.50" font-size="8.5" text-anchor="start" font-weight="normal" fill="#1e1e1e"  textLength="36.00" lengthAdjust="spacingAndGlyphs">Pano 5 nM</text>
<rect x="277.50" y="335.15" width="3.50" height="3.50" fill="#464d62" />
<text x="284.10" y="339.50" font-size="8.5" text-anchor="start" font-weight="normal" fill="#1e1e1e"  textLength="25.50" lengthAdjust="spacingAndGlyphs">Control</text>
<rect x="330.75" y="335.15" width="3.50" height="3.50" fill="#efc1b3" />
<text x="337.35" y="339.50" font-size="8.5" text-anchor="start" font-weight="normal" fill="#1e1e1e"  textLength="36.30" lengthAdjust="spacingAndGlyphs">Ruxo 1 &#956;M</text>
<rect x="388.10" y="335.15" width="3.50" height="3.50" fill="#cd7a6d" />
<text x="394.70" y="339.50" font-size="8.5" text-anchor="start" font-weight="normal" fill="#1e1e1e"  textLength="36.00" lengthAdjust="spacingAndGlyphs">Ruxo 5 &#956;M</text>
<rect x="439.80" y="335.15" width="3.50" height="3.50" fill="#a2102f" />
<text x="446.40" y="339.50" font-size="8.5" text-anchor="start" font-weight="normal" fill="#1e1e1e"  textLength="40.40" lengthAdjust="spacingAndGlyphs">Ruxo 10 &#956;M</text>
<rect x="277.50" y="347.15" width="3.50" height="3.50" fill="#98a0cb" />
<text x="284.10" y="351.50" font-size="8.5" text-anchor="start" font-weight="normal" fill="#1e1e1e"  textLength="38.00" lengthAdjust="spacingAndGlyphs">ATRA 5 nM</text>
<rect x="330.75" y="347.15" width="3.50" height="3.50" fill="#1f3d7e" />
<text x="337.35" y="351.50" font-size="8.5" text-anchor="start" font-weight="normal" fill="#1e1e1e"  textLength="41.80" lengthAdjust="spacingAndGlyphs">ATRA 25 nM</text>
<rect x="388.10" y="347.15" width="3.50" height="3.50" fill="#c1dca3" />
<text x="394.70" y="351.50" font-size="8.5" text-anchor="start" font-weight="normal" fill="#1e1e1e"  textLength="35.50" lengthAdjust="spacingAndGlyphs">Pano 1 nM</text>
<rect x="439.80" y="347.15" width="3.50" height="3.50" fill="#5aa53a" />
<text x="446.40" y="351.50" font-size="8.5" text-anchor="start" font-weight="normal" fill="#1e1e1e"  textLength="35.80" lengthAdjust="spacingAndGlyphs">Pano 5 nM</text>
<rect x="0.5" y="0.5" width="519" height="359" fill="none" stroke="#000" stroke-width="1.2"/>
</svg>
</body></html>
